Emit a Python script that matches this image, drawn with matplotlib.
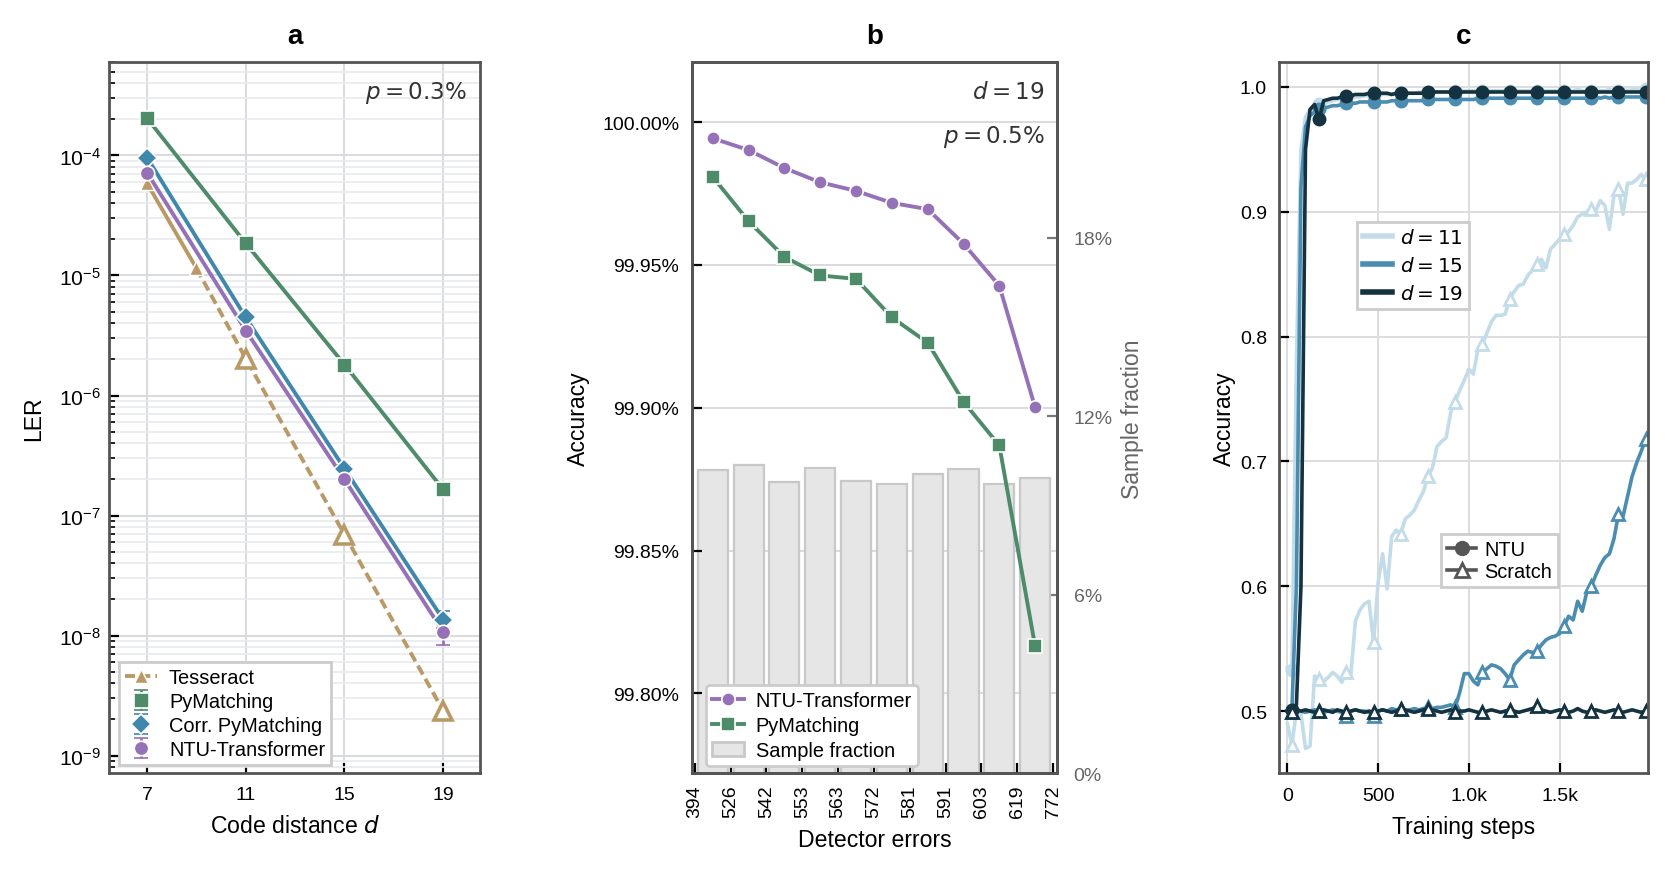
import matplotlib
matplotlib.use('Agg')
import matplotlib.pyplot as plt
import numpy as np
from matplotlib.lines import Line2D
from matplotlib.patches import Patch
from matplotlib.ticker import FuncFormatter, LogLocator, NullFormatter

plt.rcParams['font.family'] = ['Liberation Sans', 'DejaVu Sans']
plt.rcParams['mathtext.fontset'] = 'dejavusans'
plt.rcParams['font.size'] = 7
plt.rcParams['axes.edgecolor'] = '#555555'
plt.rcParams['axes.linewidth'] = 1.0
plt.rcParams['xtick.direction'] = 'in'
plt.rcParams['ytick.direction'] = 'in'
plt.rcParams['xtick.major.size'] = 3.5
plt.rcParams['ytick.major.size'] = 3.5
plt.rcParams['ytick.minor.size'] = 2.0
plt.rcParams['xtick.major.width'] = 0.8
plt.rcParams['ytick.major.width'] = 0.8
plt.rcParams['ytick.minor.width'] = 0.6
plt.rcParams['legend.fontsize'] = 7.2

# colours
c_tess = '#b99a66'
c_pym = '#4e8b69'
c_corr = '#3f88ac'
c_ntu = '#9571b8'
c11, c15, c19 = '#c3dce9', '#4a8db0', '#14323f'
grid_c = '#d9dadf'

# ---------------- panel a: LER vs code distance (p = 0.3%)
d_vals = [7, 11, 15, 19]
ler_pym = [2.04e-4, 1.85e-5, 1.81e-6, 1.65e-7]
ler_corr = [9.6e-5, 4.47e-6, 2.46e-7, 1.36e-8]
corr_lo = [9.3e-5, 4.35e-6, 2.36e-7, 1.15e-8]
corr_hi = [9.9e-5, 4.6e-6, 2.62e-7, 1.6e-8]
ler_ntu = [7.2e-5, 3.48e-6, 2.0e-7, 1.08e-8]
ntu_lo = [7.0e-5, 3.38e-6, 1.93e-7, 8.3e-9]
ntu_hi = [7.4e-5, 3.58e-6, 2.07e-7, 1.35e-8]
tess_d = [7, 9, 11, 15, 19]
ler_tess = [5.85e-5, 1.15e-5, 2.03e-6, 6.95e-8, 2.37e-9]
ler_ticks = [1e-9, 1e-8, 1e-7, 1e-6, 1e-5, 1e-4]

# ---------------- panel b: accuracy per detector-error bin (d = 19, p = 0.5%)
bin_edges = ['394', '526', '542', '553', '563', '572', '581', '591', '603', '619', '772']
sample_frac = [10.19, 10.37, 9.79, 10.27, 9.82, 9.74, 10.07, 10.24, 9.74, 9.91]
acc_ntu = [99.9943, 99.9902, 99.9839, 99.9789, 99.9759, 99.9717, 99.9695, 99.9574, 99.9427, 99.9001]
acc_pym = [99.9808, 99.9653, 99.9528, 99.9463, 99.9451, 99.9316, 99.9228, 99.9021, 99.8868, 99.8165]

# ---------------- panel c: training curves
steps = np.arange(0, 2001, 25)
ntu_11 = [0.535, 0.533, 0.780, 0.950, 0.976, 0.982, 0.985, 0.986, 0.987, 0.988,
          0.989, 0.990, 0.990, 0.991, 0.991, 0.992, 0.992, 0.993, 0.993, 0.993,
          0.994, 0.994, 0.994, 0.994, 0.995, 0.995, 0.995, 0.995, 0.995, 0.996,
          0.996, 0.996, 0.996, 0.996, 0.996, 0.996, 0.996, 0.997, 0.997, 0.997,
          0.997, 0.997, 0.997, 0.997, 0.997, 0.997, 0.997, 0.997, 0.997, 0.997,
          0.997, 0.997, 0.997, 0.997, 0.997, 0.997, 0.997, 0.997, 0.997, 0.997,
          0.997, 0.997, 0.997, 0.997, 0.998, 0.997, 0.997, 0.997, 0.998, 0.997,
          0.997, 0.998, 0.997, 0.997, 0.998, 0.997, 0.998, 0.998, 0.997, 0.998,
          0.998]
scr_11 = [0.490, 0.473, 0.500, 0.498, 0.470, 0.472, 0.528, 0.526, 0.524, 0.527,
          0.531, 0.528, 0.523, 0.531, 0.529, 0.572, 0.581, 0.586, 0.588, 0.555,
          0.603, 0.626, 0.598, 0.640, 0.645, 0.642, 0.654, 0.657, 0.661, 0.669,
          0.676, 0.688, 0.695, 0.712, 0.716, 0.719, 0.739, 0.748, 0.757, 0.765,
          0.774, 0.770, 0.790, 0.794, 0.803, 0.812, 0.817, 0.817, 0.818, 0.830,
          0.836, 0.841, 0.842, 0.849, 0.853, 0.858, 0.862, 0.855, 0.870, 0.874,
          0.878, 0.882, 0.884, 0.889, 0.896, 0.898, 0.900, 0.902, 0.901, 0.909,
          0.905, 0.886, 0.913, 0.918, 0.898, 0.923, 0.923, 0.926, 0.930, 0.926,
          0.928]
ntu_15 = [0.500, 0.501, 0.600, 0.920, 0.968, 0.977, 0.980, 0.982, 0.983, 0.984,
          0.985, 0.985, 0.986, 0.987, 0.987, 0.987, 0.988, 0.988, 0.988, 0.988,
          0.988, 0.988, 0.988, 0.989, 0.989, 0.989, 0.989, 0.989, 0.989, 0.989,
          0.989, 0.990, 0.990, 0.990, 0.990, 0.990, 0.990, 0.990, 0.990, 0.990,
          0.990, 0.990, 0.991, 0.991, 0.991, 0.991, 0.991, 0.991, 0.991, 0.991,
          0.991, 0.991, 0.991, 0.991, 0.991, 0.991, 0.991, 0.991, 0.991, 0.991,
          0.991, 0.991, 0.991, 0.991, 0.991, 0.991, 0.991, 0.991, 0.992, 0.991,
          0.992, 0.991, 0.992, 0.992, 0.992, 0.992, 0.992, 0.992, 0.992, 0.992,
          0.992]
scr_15 = [0.500, 0.499, 0.501, 0.500, 0.499, 0.500, 0.501, 0.500, 0.499, 0.500,
          0.501, 0.500, 0.499, 0.496, 0.500, 0.501, 0.500, 0.500, 0.499, 0.496,
          0.500, 0.501, 0.500, 0.502, 0.501, 0.502, 0.500, 0.501, 0.502, 0.501,
          0.502, 0.503, 0.502, 0.503, 0.503, 0.504, 0.505, 0.503, 0.515, 0.530,
          0.530, 0.524, 0.521, 0.531, 0.534, 0.537, 0.536, 0.534, 0.530, 0.525,
          0.537, 0.541, 0.545, 0.548, 0.547, 0.548, 0.553, 0.557, 0.559, 0.560,
          0.562, 0.568, 0.576, 0.573, 0.588, 0.580, 0.595, 0.600, 0.609, 0.617,
          0.623, 0.626, 0.638, 0.658, 0.656, 0.672, 0.688, 0.699, 0.708, 0.718,
          0.726]
ntu_19 = [0.500, 0.501, 0.505, 0.600, 0.950, 0.982, 0.986, 0.974, 0.989, 0.990,
          0.991, 0.991, 0.992, 0.993, 0.993, 0.994, 0.994, 0.994, 0.995, 0.995,
          0.995, 0.995, 0.995, 0.994, 0.995, 0.995, 0.995, 0.995, 0.995, 0.995,
          0.995, 0.996, 0.996, 0.996, 0.996, 0.996, 0.996, 0.996, 0.996, 0.996,
          0.996, 0.996, 0.996, 0.996, 0.996, 0.996, 0.996, 0.996, 0.996, 0.996,
          0.996, 0.996, 0.996, 0.996, 0.996, 0.996, 0.996, 0.996, 0.996, 0.996,
          0.996, 0.996, 0.996, 0.996, 0.996, 0.996, 0.996, 0.996, 0.996, 0.996,
          0.996, 0.996, 0.996, 0.996, 0.996, 0.996, 0.996, 0.996, 0.996, 0.996,
          0.996]
scr_19 = [0.500, 0.499, 0.501, 0.500, 0.501, 0.500, 0.499, 0.500, 0.501, 0.500,
          0.499, 0.501, 0.500, 0.499, 0.500, 0.501, 0.500, 0.499, 0.500, 0.499,
          0.500, 0.501, 0.500, 0.499, 0.500, 0.502, 0.501, 0.500, 0.499, 0.500,
          0.501, 0.502, 0.501, 0.500, 0.499, 0.500, 0.501, 0.499, 0.500, 0.500,
          0.501, 0.500, 0.499, 0.499, 0.500, 0.501, 0.500, 0.499, 0.500, 0.501,
          0.500, 0.499, 0.500, 0.501, 0.502, 0.504, 0.501, 0.500, 0.499, 0.500,
          0.501, 0.500, 0.499, 0.500, 0.502, 0.500, 0.499, 0.500, 0.501, 0.500,
          0.499, 0.500, 0.501, 0.500, 0.499, 0.500, 0.501, 0.500, 0.499, 0.500,
          0.500]

fig = plt.figure(figsize=(8.365, 4.395), dpi=200)
axa = fig.add_axes([0.0652, 0.1189, 0.2218, 0.8094])
axb = fig.add_axes([0.4136, 0.1189, 0.2182, 0.8094])
axc = fig.add_axes([0.7645, 0.1189, 0.2206, 0.8094])

# ---- a
def yerr(v, lo, hi):
    return [np.array(v) - np.array(lo), np.array(hi) - np.array(v)]

axa.plot(tess_d[1:], ler_tess[1:], color=c_tess, lw=1.4, dashes=(2.6, 1.3),
         marker='^', ms=6.5, mfc='white', mec=c_tess, mew=1.3, markevery=[1, 2, 3], zorder=3)
axa.plot(tess_d[:2], ler_tess[:2], color=c_tess, lw=1.4, marker='^', ms=5,
         mec='white', mew=0.5, zorder=3)
axa.plot(d_vals, ler_pym, color=c_pym, lw=1.4, zorder=3)
eb_pym = axa.errorbar(d_vals, ler_pym, yerr=yerr(ler_pym, ler_pym, ler_pym),
                      fmt='s', color=c_pym, ms=5.4, mec='white', mew=0.6, capsize=2.6,
                      elinewidth=1, capthick=1, zorder=4)
axa.plot(d_vals, ler_corr, color=c_corr, lw=1.4, zorder=3)
eb_corr = axa.errorbar(d_vals, ler_corr, yerr=yerr(ler_corr, corr_lo, corr_hi), fmt='D',
                       color=c_corr, ms=5, mec='white', mew=0.6, capsize=2.6,
                       elinewidth=1, capthick=1, zorder=4)
axa.plot(d_vals, ler_ntu, color=c_ntu, lw=1.4, zorder=3)
eb_ntu = axa.errorbar(d_vals, ler_ntu, yerr=yerr(ler_ntu, ntu_lo, ntu_hi), fmt='o',
                      color=c_ntu, ms=5.2, mec='white', mew=0.6, capsize=2.6,
                      elinewidth=1, capthick=1, zorder=4)

axa.set_yscale('log')
axa.set_ylim(7.1e-10, 6.0e-4)
axa.set_xlim(5.46, 20.5)
axa.set_xticks(d_vals)
axa.set_yticks(ler_ticks)
axa.yaxis.set_minor_locator(LogLocator(base=10, subs=np.arange(2, 10), numticks=12))
axa.yaxis.set_minor_formatter(NullFormatter())
axa.grid(True, which='major', color=grid_c, lw=0.7)
axa.grid(True, which='minor', axis='y', color='#e9eaee', lw=0.6)
axa.set_axisbelow(True)
axa.tick_params(axis='y', pad=3, labelsize=7.6)
axa.tick_params(axis='x', pad=4.5)
axa.set_xlabel('Code distance $d$', fontsize=8.3, labelpad=4)
axa.set_ylabel('LER', fontsize=8.3, labelpad=5)
axa.set_title('a', fontweight='bold', fontsize=10, pad=7)
axa.text(0.965, 0.958, r'$p = 0.3\%$', transform=axa.transAxes, ha='right', va='center',
         fontsize=8.3, color='#333333')
tess_h = Line2D([], [], color=c_tess, lw=1.4, dashes=(2.6, 1.3), marker='^', ms=5,
                mec='white', mew=0.5)
axa.legend([tess_h, eb_pym, eb_corr, eb_ntu],
           ['Tesseract', 'PyMatching', 'Corr. PyMatching', 'NTU-Transformer'],
           loc='lower left', bbox_to_anchor=(0.005, 0.0), fancybox=False, edgecolor='#cccccc',
           framealpha=1, handlelength=1.6, borderpad=0.3, labelspacing=0.25,
           handletextpad=0.6, borderaxespad=0.4)

# ---- b
xb = np.arange(len(sample_frac)) + 0.5
ax2 = axb.twinx()
ax2.bar(xb, sample_frac, width=0.84, color='#e6e6e6', edgecolor='#c8c8c8', lw=0.8, zorder=2)
ax2.set_ylim(0, 23.9)
ax2.set_yticks([0, 6, 12, 18])
ax2.yaxis.set_major_formatter(FuncFormatter(lambda v, p: f'{v:.0f}%'))
ax2.tick_params(axis='y', colors='#777777', labelcolor='#666666', pad=6, labelsize=7)
ax2.set_ylabel('Sample fraction', color='#666666', fontsize=8.3, labelpad=3)
ax2.grid(True, axis='x', color=grid_c, lw=0.7, zorder=0)

axb.set_zorder(ax2.get_zorder() + 1)
axb.patch.set_visible(False)
l_ntu, = axb.plot(xb, acc_ntu, color=c_ntu, lw=1.4, marker='o', ms=4.8, mec='white', mew=0.6)
l_pym, = axb.plot(xb, acc_pym, color=c_pym, lw=1.4, marker='s', ms=4.8, mec='white', mew=0.6)
axb.set_ylim(99.772, 100.021)
axb.set_xlim(-0.08, 10.11)
acc_ticks = [99.80, 99.85, 99.90, 99.95, 100.00]
axb.set_yticks(acc_ticks)
axb.yaxis.set_major_formatter(FuncFormatter(lambda v, p: f'{v:.2f}%'))
for t in acc_ticks:
    ax2.plot([-0.08, 10.11], [t, t], transform=axb.transData, color=grid_c, lw=0.7, zorder=0)
axb.set_xticks(np.arange(len(bin_edges)))
axb.set_xticklabels(bin_edges, rotation=90)
axb.tick_params(axis='y', pad=4.5)
axb.tick_params(axis='x', pad=4)
axb.set_xlabel('Detector errors', fontsize=8.3, labelpad=4)
axb.set_ylabel('Accuracy', fontsize=8.3, labelpad=4.5)
axb.set_title('b', fontweight='bold', fontsize=10, pad=7)
axb.text(0.967, 0.959, r'$d = 19$', transform=axb.transAxes, ha='right', va='center',
         fontsize=8.3, color='#333333')
axb.text(0.967, 0.896, r'$p = 0.5\%$', transform=axb.transAxes, ha='right', va='center',
         fontsize=8.3, color='#333333')
axb.legend([l_ntu, l_pym, Patch(facecolor='#e6e6e6', edgecolor='#c8c8c8')],
           ['NTU-Transformer', 'PyMatching', 'Sample fraction'],
           loc='lower left', bbox_to_anchor=(0.018, 0.0), fancybox=True, edgecolor='#cccccc',
           framealpha=1, handlelength=1.6, borderpad=0.3, labelspacing=0.3,
           handletextpad=0.6, borderaxespad=0.35)

# ---- c
series = [(ntu_11, scr_11, c11), (ntu_15, scr_15, c15), (ntu_19, scr_19, c19)]
for ntu, scr, col in series:
    axc.plot(steps, ntu, color=col, lw=1.3, marker='o', ms=4, markevery=(1, 6))
    axc.plot(steps, scr, color=col, lw=1.3, marker='^', ms=4.6, mfc='white', mec=col,
             mew=1.0, markevery=(1, 6))
axc.set_xlim(-46, 1988)
axc.set_ylim(0.45, 1.02)
axc.set_xticks([0, 500, 1000, 1500])
axc.set_xticklabels(['0', '500', '1.0k', '1.5k'])
axc.set_yticks([0.5, 0.6, 0.7, 0.8, 0.9, 1.0])
axc.yaxis.set_major_formatter(FuncFormatter(lambda v, p: f'{v:.1f}'))
axc.grid(True, color='#dddddd', lw=0.7)
axc.set_axisbelow(True)
axc.tick_params(axis='y', pad=4.3)
axc.tick_params(axis='x', pad=5)
axc.set_xlabel('Training steps', fontsize=8.3, labelpad=4)
axc.set_ylabel('Accuracy', fontsize=8.3, labelpad=1.5)
axc.set_title('c', fontweight='bold', fontsize=10, pad=7)
leg1 = axc.legend([Line2D([], [], color=c, lw=2.0) for c in (c11, c15, c19)],
                  [r'$d = 11$', r'$d = 15$', r'$d = 19$'],
                  loc='upper left', bbox_to_anchor=(0.21, 0.775), fancybox=False,
                  edgecolor='#cccccc', framealpha=1, handlelength=1.45, borderpad=0.3,
                  labelspacing=0.45, handletextpad=0.4, borderaxespad=0)
axc.add_artist(leg1)
axc.legend([Line2D([], [], color='#555555', lw=1.3, marker='o', ms=4.5),
            Line2D([], [], color='#555555', lw=1.3, marker='^', ms=5, mfc='white', mew=1.0)],
           ['NTU', 'Scratch'], loc='upper left', bbox_to_anchor=(0.44, 0.337),
           fancybox=False, edgecolor='#cccccc', framealpha=1, handlelength=1.45,
           borderpad=0.3, labelspacing=0.15, handletextpad=0.4, borderaxespad=0)

fig.savefig('out.png', dpi=200)
